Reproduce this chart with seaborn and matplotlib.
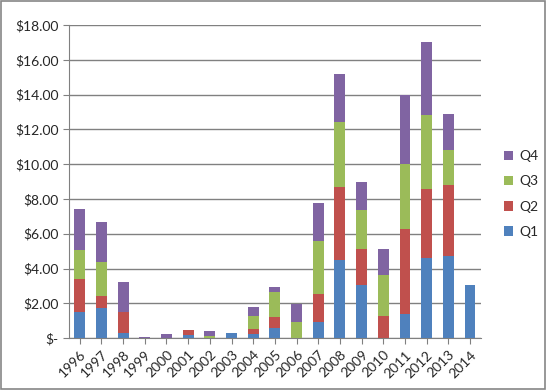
import matplotlib
matplotlib.use("Agg")
import matplotlib.pyplot as plt
import seaborn as sns
import pandas as pd
import numpy as np

years = [str(y) for y in range(1996, 2015)]
q1 = [1.5, 1.75, 0.3, 0.0, 0.0, 0.2, 0.0, 0.3, 0.25, 0.6, 0.0, 0.95, 4.5, 3.05, 0.0, 1.4, 4.6, 4.7, 3.05]
q2 = [1.9, 0.65, 1.2, 0.0, 0.0, 0.25, 0.0, 0.0, 0.3, 0.6, 0.0, 1.6, 4.2, 2.1, 1.25, 4.85, 4.0, 4.1, 0.0]
q3 = [1.65, 1.95, 0.0, 0.0, 0.0, 0.0, 0.15, 0.0, 0.75, 1.45, 0.9, 3.05, 3.7, 2.2, 2.35, 3.75, 4.2, 2.0, 0.0]
q4 = [2.35, 2.35, 1.7, 0.05, 0.25, 0.0, 0.25, 0.0, 0.5, 0.3, 1.05, 2.15, 2.8, 1.65, 1.5, 4.0, 4.2, 2.1, 0.0]
quarters = ["Q1", "Q2", "Q3", "Q4"]
colors = ["#4F81BD", "#C0504D", "#9BBB59", "#8064A2"]

df = pd.DataFrame({"year": years, "Q1": q1, "Q2": q2, "Q3": q3, "Q4": q4})
cum = df[quarters].cumsum(axis=1)

sns.set_style("white")
plt.rcParams["font.family"] = ["Lato", "DejaVu Sans"]

fig = plt.figure(figsize=(5.47, 3.90), dpi=100)
ax = fig.add_axes([0.126, 0.133, 0.753, 0.803])

# draw from the top segment down so lower segments cover upper ones
for q, c in reversed(list(zip(quarters, colors))):
    sns.barplot(x=df["year"], y=cum[q], color=c, width=0.5, ax=ax,
                label=q, saturation=1, edgecolor="none", zorder=3)

ax.set_ylim(0, 18)
ax.set_xlim(-0.5, len(years) - 0.5)
ax.set_yticks(np.arange(0, 19, 2))
ax.set_yticklabels(["$-"] + [f"${v:.2f}" for v in np.arange(2, 19, 2)], fontsize=10)
ax.set_xticks(range(len(years)))
ax.set_xticklabels(years, rotation=45, fontsize=10, ha="right", rotation_mode="anchor")
ax.set_xlabel("")
ax.set_ylabel("")
ax.yaxis.grid(True, color="#808080", linewidth=1, zorder=0)
ax.set_axisbelow(True)
for s in ["top", "right"]:
    ax.spines[s].set_visible(False)
for s in ["left", "bottom"]:
    ax.spines[s].set_color("#808080")
ax.tick_params(axis="both", length=4, color="#808080", direction="out",
               left=True, bottom=True)

handles, labels = ax.get_legend_handles_labels()
ax.legend(handles, labels, loc="center left", bbox_to_anchor=(1.025, 0.46),
          frameon=False, fontsize=10, handlelength=0.7, handleheight=0.7,
          labelspacing=0.95, handletextpad=0.4)

fig.patches.append(plt.Rectangle((0.002, 0.003), 0.995, 0.994, transform=fig.transFigure,
                                 fill=False, edgecolor="#868686", linewidth=1.2))
fig.savefig("out.png", dpi=100)
